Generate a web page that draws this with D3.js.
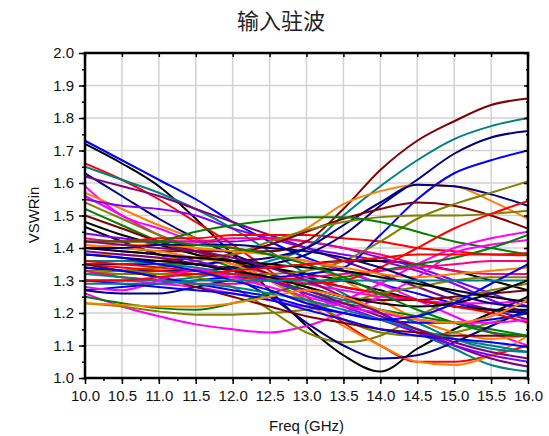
<!DOCTYPE html>
<html>
<head>
<meta charset="utf-8">
<script src="https://cdn.jsdelivr.net/npm/d3@7"></script>
<style>
  html, body { margin: 0; padding: 0; background: #fff; }
  svg { display: block; font-family: "Liberation Sans", Arial, sans-serif; }
</style>
</head>
<body>
<svg id="chart" width="549" height="436"></svg>
<script>
// frequency grid (GHz) shared by every curve
const freqGHz = [10, 10.5, 11, 11.5, 12, 12.5, 13, 13.5, 14, 14.5, 15, 15.5, 16];
const xTickValues = [10, 10.5, 11, 11.5, 12, 12.5, 13, 13.5, 14, 14.5, 15, 15.5, 16];
const yTickValues = [1.0, 1.1, 1.2, 1.3, 1.4, 1.5, 1.6, 1.7, 1.8, 1.9, 2.0];

// one colour name per curve, same order as vswrCurves
const curveColors = [
  "blue", "black", "red", "teal", "navy", "purple", "magenta", "orange", "magenta", "violet",
  "olive", "green", "wine", "black", "black", "violet", "pink", "red", "teal", "wine",
  "navy", "blue", "orange", "navy", "wine", "olive", "olive", "green", "red", "magenta",
  "magenta", "olive", "olive", "orange", "navy", "teal", "purple", "violet", "wine", "blue",
  "green", "pink", "red", "black", "teal", "orange", "magenta", "navy", "black", "blue",
  "green", "purple", "red", "orange", "blue", "teal"
];

// VSWR at each freqGHz point
const vswrCurves = [
  [1.73, 1.67, 1.61, 1.55, 1.48, 1.42, 1.37, 1.33, 1.29, 1.26, 1.23, 1.21, 1.20],
  [1.72, 1.66, 1.59, 1.49, 1.38, 1.27, 1.16, 1.07, 1.02, 1.09, 1.15, 1.20, 1.25],
  [1.66, 1.61, 1.55, 1.48, 1.41, 1.33, 1.25, 1.17, 1.10, 1.05, 1.05, 1.07, 1.10],
  [1.65, 1.61, 1.57, 1.52, 1.46, 1.39, 1.32, 1.26, 1.20, 1.14, 1.09, 1.04, 1.02],
  [1.63, 1.56, 1.49, 1.43, 1.38, 1.34, 1.31, 1.28, 1.26, 1.24, 1.22, 1.21, 1.20],
  [1.62, 1.59, 1.56, 1.52, 1.48, 1.44, 1.40, 1.36, 1.32, 1.28, 1.24, 1.21, 1.18],
  [1.59, 1.50, 1.46, 1.42, 1.40, 1.38, 1.36, 1.33, 1.29, 1.24, 1.19, 1.14, 1.10],
  [1.57, 1.52, 1.47, 1.43, 1.40, 1.38, 1.35, 1.30, 1.24, 1.18, 1.14, 1.12, 1.13],
  [1.56, 1.50, 1.44, 1.39, 1.35, 1.32, 1.29, 1.27, 1.25, 1.24, 1.23, 1.23, 1.24],
  [1.55, 1.53, 1.52, 1.50, 1.46, 1.43, 1.40, 1.38, 1.36, 1.33, 1.29, 1.24, 1.20],
  [1.54, 1.49, 1.44, 1.40, 1.36, 1.30, 1.24, 1.18, 1.14, 1.13, 1.14, 1.17, 1.20],
  [1.52, 1.47, 1.42, 1.38, 1.34, 1.30, 1.26, 1.23, 1.21, 1.19, 1.17, 1.15, 1.13],
  [1.50, 1.46, 1.42, 1.39, 1.36, 1.32, 1.28, 1.25, 1.24, 1.24, 1.25, 1.26, 1.27],
  [1.48, 1.44, 1.41, 1.38, 1.36, 1.34, 1.32, 1.30, 1.27, 1.24, 1.22, 1.21, 1.21],
  [1.465, 1.42, 1.38, 1.35, 1.34, 1.34, 1.35, 1.36, 1.36, 1.35, 1.33, 1.30, 1.27],
  [1.445, 1.43, 1.42, 1.42, 1.42, 1.43, 1.42, 1.40, 1.37, 1.34, 1.30, 1.26, 1.22],
  [1.43, 1.42, 1.42, 1.42, 1.43, 1.43, 1.42, 1.40, 1.38, 1.35, 1.33, 1.32, 1.32],
  [1.42, 1.42, 1.43, 1.43, 1.44, 1.44, 1.44, 1.43, 1.42, 1.40, 1.39, 1.38, 1.378],
  [1.30, 1.30, 1.30, 1.31, 1.33, 1.36, 1.40, 1.50, 1.59, 1.67, 1.735, 1.775, 1.80],
  [1.40, 1.40, 1.39, 1.39, 1.39, 1.39, 1.42, 1.52, 1.64, 1.73, 1.79, 1.84, 1.86],
  [1.34, 1.33, 1.33, 1.33, 1.34, 1.35, 1.38, 1.44, 1.53, 1.61, 1.69, 1.74, 1.76],
  [1.27, 1.28, 1.29, 1.30, 1.31, 1.31, 1.32, 1.34, 1.44, 1.55, 1.63, 1.67, 1.70],
  [1.38, 1.38, 1.37, 1.37, 1.38, 1.41, 1.46, 1.535, 1.575, 1.595, 1.59, 1.545, 1.49],
  [1.35, 1.35, 1.35, 1.35, 1.36, 1.37, 1.40, 1.47, 1.54, 1.595, 1.59, 1.565, 1.53],
  [1.36, 1.36, 1.36, 1.37, 1.38, 1.41, 1.45, 1.49, 1.52, 1.54, 1.53, 1.50, 1.46],
  [1.32, 1.32, 1.32, 1.32, 1.32, 1.32, 1.33, 1.36, 1.42, 1.49, 1.535, 1.57, 1.605],
  [1.32, 1.33, 1.34, 1.36, 1.38, 1.42, 1.455, 1.48, 1.495, 1.50, 1.50, 1.505, 1.515],
  [1.40, 1.40, 1.42, 1.45, 1.47, 1.485, 1.495, 1.495, 1.48, 1.45, 1.42, 1.40, 1.38],
  [1.35, 1.34, 1.33, 1.32, 1.31, 1.30, 1.29, 1.30, 1.34, 1.40, 1.46, 1.505, 1.545],
  [1.30, 1.30, 1.29, 1.28, 1.26, 1.24, 1.22, 1.24, 1.29, 1.35, 1.40, 1.43, 1.45],
  [1.26, 1.22, 1.19, 1.165, 1.15, 1.14, 1.16, 1.20, 1.25, 1.31, 1.385, 1.41, 1.425],
  [1.33, 1.33, 1.32, 1.31, 1.28, 1.21, 1.14, 1.11, 1.13, 1.19, 1.24, 1.27, 1.29],
  [1.23, 1.22, 1.205, 1.195, 1.195, 1.20, 1.21, 1.23, 1.26, 1.28, 1.30, 1.31, 1.31],
  [1.41, 1.40, 1.39, 1.37, 1.35, 1.30, 1.23, 1.16, 1.10, 1.05, 1.04, 1.07, 1.13],
  [1.27, 1.26, 1.26, 1.28, 1.30, 1.25, 1.17, 1.10, 1.06, 1.07, 1.11, 1.16, 1.21],
  [1.36, 1.36, 1.35, 1.34, 1.32, 1.30, 1.27, 1.24, 1.21, 1.17, 1.12, 1.09, 1.08],
  [1.39, 1.38, 1.37, 1.35, 1.33, 1.30, 1.27, 1.23, 1.19, 1.15, 1.10, 1.06, 1.035],
  [1.40, 1.39, 1.38, 1.36, 1.33, 1.30, 1.26, 1.22, 1.18, 1.14, 1.10, 1.07, 1.05],
  [1.35, 1.33, 1.31, 1.28, 1.25, 1.22, 1.19, 1.17, 1.15, 1.14, 1.13, 1.13, 1.13],
  [1.34, 1.33, 1.31, 1.29, 1.27, 1.25, 1.22, 1.20, 1.18, 1.17, 1.17, 1.18, 1.20],
  [1.25, 1.23, 1.215, 1.21, 1.23, 1.26, 1.29, 1.31, 1.33, 1.35, 1.37, 1.40, 1.44],
  [1.33, 1.31, 1.30, 1.29, 1.29, 1.30, 1.31, 1.32, 1.33, 1.34, 1.35, 1.36, 1.36],
  [1.36, 1.35, 1.34, 1.33, 1.32, 1.31, 1.30, 1.28, 1.26, 1.24, 1.22, 1.20, 1.17],
  [1.38, 1.37, 1.36, 1.35, 1.33, 1.31, 1.28, 1.25, 1.23, 1.22, 1.23, 1.26, 1.30],
  [1.32, 1.31, 1.30, 1.29, 1.28, 1.26, 1.24, 1.21, 1.18, 1.15, 1.12, 1.10, 1.08],
  [1.40, 1.41, 1.41, 1.40, 1.39, 1.38, 1.36, 1.34, 1.32, 1.31, 1.32, 1.33, 1.34],
  [1.28, 1.27, 1.30, 1.335, 1.31, 1.28, 1.25, 1.22, 1.20, 1.18, 1.17, 1.17, 1.18],
  [1.40, 1.40, 1.41, 1.41, 1.41, 1.40, 1.39, 1.37, 1.34, 1.30, 1.26, 1.23, 1.22],
  [1.40, 1.39, 1.38, 1.37, 1.36, 1.35, 1.34, 1.33, 1.31, 1.29, 1.27, 1.25, 1.234],
  [1.30, 1.29, 1.28, 1.27, 1.26, 1.24, 1.21, 1.18, 1.15, 1.13, 1.12, 1.11, 1.095],
  [1.42, 1.42, 1.42, 1.41, 1.40, 1.38, 1.35, 1.31, 1.26, 1.21, 1.17, 1.14, 1.13],
  [1.42, 1.41, 1.40, 1.39, 1.37, 1.34, 1.30, 1.25, 1.20, 1.15, 1.11, 1.08, 1.06],
  [1.30, 1.30, 1.31, 1.32, 1.33, 1.34, 1.35, 1.36, 1.37, 1.38, 1.38, 1.38, 1.385],
  [1.23, 1.225, 1.22, 1.22, 1.23, 1.25, 1.27, 1.25, 1.21, 1.18, 1.17, 1.19, 1.24],
  [1.38, 1.37, 1.35, 1.33, 1.30, 1.27, 1.23, 1.20, 1.18, 1.19, 1.23, 1.29, 1.35],
  [1.29, 1.29, 1.29, 1.30, 1.30, 1.30, 1.30, 1.30, 1.30, 1.30, 1.30, 1.30, 1.30]
];

const palette = {
  black: "#000000", red: "#ff0000", blue: "#0000ff", magenta: "#ff00ff", olive: "#808000",
  navy: "#000080", violet: "#8000ff", purple: "#800080", wine: "#800000", teal: "#008080",
  orange: "#ff8000", pink: "#ff0080", green: "#008000"
};

const svg = d3.select("#chart");
const plot = { left: 85, right: 528, top: 53, bottom: 378 };
const x = d3.scaleLinear().domain([10, 16]).range([plot.left, plot.right]);
const y = d3.scaleLinear().domain([1, 2]).range([plot.bottom, plot.top]);

// grid
const grid = svg.append("g").attr("stroke", "#d2d2d2").attr("stroke-width", 1.5);
grid.selectAll("line.gx").data(xTickValues.slice(1, -1)).join("line")
  .attr("x1", (d) => x(d)).attr("x2", (d) => x(d)).attr("y1", plot.top).attr("y2", plot.bottom);
grid.selectAll("line.gy").data(yTickValues.slice(1, -1)).join("line")
  .attr("y1", (d) => y(d)).attr("y2", (d) => y(d)).attr("x1", plot.left).attr("x2", plot.right);

svg.append("clipPath").attr("id", "plotClip").append("rect")
  .attr("x", plot.left).attr("y", plot.top)
  .attr("width", plot.right - plot.left).attr("height", plot.bottom - plot.top);

const line = d3.line()
  .x((d, i) => x(freqGHz[i]))
  .y((d) => y(d))
  .curve(d3.curveMonotoneX);

svg.append("g").attr("clip-path", "url(#plotClip)")
  .selectAll("path").data(vswrCurves).join("path")
  .attr("d", (d) => line(d))
  .attr("fill", "none")
  .attr("stroke", (d, i) => palette[curveColors[i]])
  .attr("stroke-width", 2)
  .attr("stroke-linejoin", "round");

// axes
const xMinor = d3.range(10, 16.001, 0.25);
const yMinor = d3.range(1, 2.001, 0.05);
const styleAxis = (axis) => {
  axis.select(".domain").remove();
  axis.selectAll("line").attr("stroke", "#000").attr("stroke-width", 1.5);
  axis.selectAll("text").attr("fill", "#111").style("font-size", "15px")
    .style("font-family", "'Liberation Sans', Arial, sans-serif");
};

svg.append("g").attr("transform", `translate(0,${plot.bottom})`)
  .call(d3.axisBottom(x).tickValues(xMinor).tickSize(3).tickFormat(""))
  .call(styleAxis);
svg.append("g").attr("transform", `translate(0,${plot.bottom})`)
  .call(d3.axisBottom(x).tickValues(xTickValues).tickSize(6).tickPadding(6).tickFormat(d3.format(".1f")))
  .call(styleAxis);
svg.append("g").attr("transform", `translate(${plot.left},0)`)
  .call(d3.axisLeft(y).tickValues(yMinor).tickSize(3).tickFormat(""))
  .call(styleAxis);
svg.append("g").attr("transform", `translate(${plot.left},0)`)
  .call(d3.axisLeft(y).tickValues(yTickValues).tickSize(6).tickPadding(5).tickFormat(d3.format(".1f")))
  .call(styleAxis);
svg.append("g").attr("transform", `translate(0,${plot.top})`)
  .call(d3.axisTop(x).tickValues(xTickValues).tickSize(-4).tickFormat(""))
  .call(styleAxis);
svg.append("g").attr("transform", `translate(${plot.right},0)`)
  .call(d3.axisRight(y).tickValues(yTickValues).tickSize(-4).tickFormat(""))
  .call(styleAxis);
svg.append("g").attr("transform", `translate(${plot.right},0)`)
  .call(d3.axisRight(y).tickValues(yMinor).tickSize(-2).tickFormat(""))
  .call(styleAxis);

svg.append("rect")
  .attr("x", plot.left).attr("y", plot.top)
  .attr("width", plot.right - plot.left).attr("height", plot.bottom - plot.top)
  .attr("fill", "none").attr("stroke", "#000").attr("stroke-width", 2.5);

// labels
svg.append("text").attr("x", 281).attr("y", 29).attr("text-anchor", "middle")
  .style("font-family", "'Noto Sans CJK SC', sans-serif").style("font-size", "22px")
  .attr("fill", "#222").text("输入驻波");
svg.append("text").attr("x", (plot.left + plot.right) / 2).attr("y", 431).attr("text-anchor", "middle")
  .style("font-size", "15px").attr("fill", "#111").text("Freq (GHz)");
svg.append("text").attr("transform", "translate(39,215) rotate(-90)").attr("text-anchor", "middle")
  .style("font-size", "15px").attr("fill", "#111").text("VSWRin");
</script>
</body>
</html>
